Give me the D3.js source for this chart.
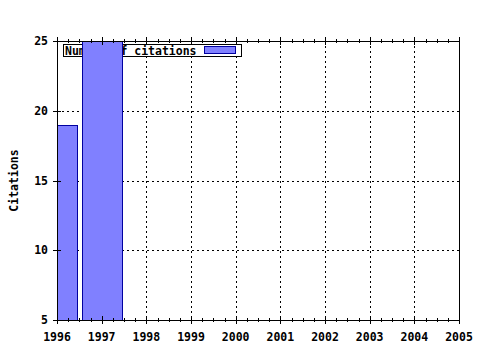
<!DOCTYPE html>
<html>
<head>
<meta charset="utf-8">
<script src="https://cdn.jsdelivr.net/npm/d3@7"></script>
<style>
    body { margin: 0; background: #fff; }
    text { font-family: "DejaVu Sans Mono", "Liberation Mono", monospace; font-weight: bold; font-size: 11.5px; }
</style>
</head>
<body>
<svg width="480" height="350"></svg>
<script>
// citations per year
const years = [1996, 1997];
const citations = [19, 25];
const xTicks = [1996, 1997, 1998, 1999, 2000, 2001, 2002, 2003, 2004, 2005];
const yTicks = [5, 10, 15, 20, 25];
const seriesName = "Number of citations";

const svg = d3.select("svg");
const plotL = 57, plotR = 459, plotT = 41, plotB = 320;

const x = d3.scaleLinear().domain([1996, 2005]).range([plotL, plotR]);
const y = d3.scaleLinear().domain([5, 25]).range([plotB, plotT]);

svg.append("rect").attr("width", 480).attr("height", 350).attr("fill", "#fff");

svg.append("clipPath").attr("id", "plot")
    .append("rect")
    .attr("x", plotL).attr("y", plotT)
    .attr("width", plotR - plotL).attr("height", plotB - plotT);

// grid
const grid = svg.append("g")
    .attr("stroke", "#000")
    .attr("stroke-width", 1)
    .attr("stroke-dasharray", "2,3");
grid.selectAll("line.gx")
    .data(xTicks.slice(1, -1))
    .enter().append("line")
    .attr("x1", d => Math.round(x(d)) + 0.5).attr("x2", d => Math.round(x(d)) + 0.5)
    .attr("y1", plotT).attr("y2", plotB);
grid.selectAll("line.gy")
    .data(yTicks.slice(1, -1))
    .enter().append("line")
    .attr("y1", d => Math.round(y(d)) + 0.5).attr("y2", d => Math.round(y(d)) + 0.5)
    .attr("x1", plotL).attr("x2", plotR);

// legend (drawn under the bars)
const legend = svg.append("g");
legend.append("rect")
    .attr("x", 63.5).attr("y", 44.5).attr("width", 178).attr("height", 12)
    .attr("fill", "#fff").attr("stroke", "#000");
legend.append("text")
    .attr("x", 65).attr("y", 55)
    .text(seriesName);
legend.append("rect")
    .attr("x", 204.5).attr("y", 46.5).attr("width", 31).attr("height", 7)
    .attr("fill", "#8080ff").attr("stroke", "#0000a0");

// bars
const barW = 0.9;
svg.append("g")
    .attr("clip-path", "url(#plot)")
    .selectAll("rect")
    .data(years)
    .enter().append("rect")
    .attr("x", d => Math.round(x(d - barW / 2)) + 0.5)
    .attr("width", d => Math.round(x(d + barW / 2)) - Math.round(x(d - barW / 2)))
    .attr("y", (d, i) => Math.round(y(citations[i])) + 0.5)
    .attr("height", (d, i) => Math.round(y(5)) - Math.round(y(citations[i])))
    .attr("fill", "#8080ff")
    .attr("stroke", "#0000a0")
    .attr("stroke-width", 1);

// border
svg.append("rect")
    .attr("x", plotL + 0.5).attr("y", plotT + 0.5)
    .attr("width", plotR - plotL).attr("height", plotB - plotT)
    .attr("fill", "none").attr("stroke", "#000");

// ticks
const ticks = svg.append("g").attr("stroke", "#000");
const minor = d3.range(1996, 2005.01, 0.25);
minor.forEach(d => {
    const major = Math.abs(d - Math.round(d)) < 1e-6;
    const len = major ? 4 : 2;
    const px = Math.round(x(d)) + 0.5;
    ticks.append("line").attr("x1", px).attr("x2", px)
        .attr("y1", plotB - len).attr("y2", plotB + len);
    ticks.append("line").attr("x1", px).attr("x2", px)
        .attr("y1", plotT - len).attr("y2", plotT + len);
});
yTicks.forEach(d => {
    const py = Math.round(y(d)) + 0.5;
    ticks.append("line").attr("y1", py).attr("y2", py)
        .attr("x1", plotL - 4).attr("x2", plotL + 4);
});

// labels
svg.append("g").selectAll("text")
    .data(xTicks)
    .enter().append("text")
    .attr("x", d => x(d))
    .attr("y", 341)
    .attr("text-anchor", "middle")
    .text(d => d);

svg.append("g").selectAll("text")
    .data(yTicks)
    .enter().append("text")
    .attr("x", 48)
    .attr("y", d => y(d) + 4)
    .attr("text-anchor", "end")
    .text(d => d);

svg.append("text")
    .attr("transform", "translate(18," + ((plotT + plotB) / 2) + ") rotate(-90)")
    .attr("text-anchor", "middle")
    .text("Citations");
</script>
</body>
</html>
